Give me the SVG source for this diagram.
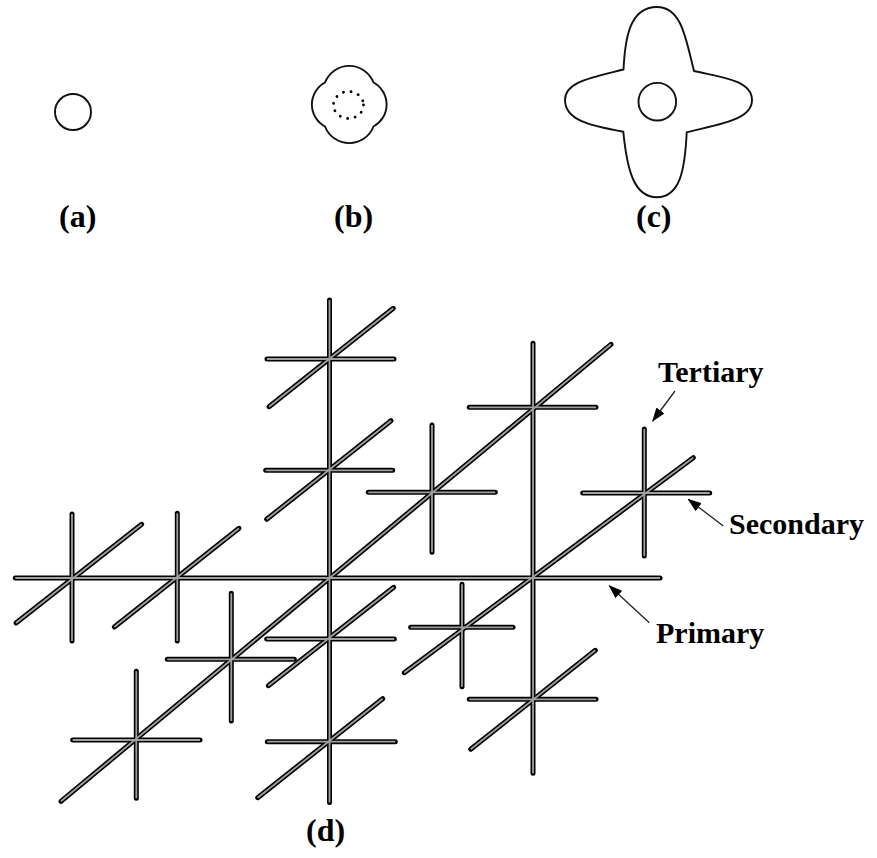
<svg xmlns="http://www.w3.org/2000/svg" xmlns:xlink="http://www.w3.org/1999/xlink" width="877" height="858" viewBox="0 0 877 858">
<style>
.outline{fill:none;stroke:#111;stroke-width:1.9}
.lbl{font-family:"Liberation Serif","Times New Roman",serif;font-weight:bold;font-size:30px;fill:#000}
.fig{font-size:32px}
.arrow{stroke:#222;stroke-width:1.3;fill:none}
</style>
<defs>
<marker id="ah" viewBox="0 0 14 10" refX="13" refY="5" markerWidth="14" markerHeight="10" markerUnits="userSpaceOnUse" orient="auto">
<path d="M0,0 L14,5 L0,10 Z" fill="#000"/>
</marker>
</defs>
<rect width="877" height="858" fill="#fff"/>

<g id="fig-a">
<circle class="outline" cx="73" cy="112" r="18"/>
<text class="lbl fig" x="59" y="227">(a)</text>
</g>

<g id="fig-b">
<path class="outline" d="M325,82.5 A26 26 0 0 1 373.5,82.5 A25 25 0 0 1 373.5,126.5 A26 26 0 0 1 325,126.5 A25 25 0 0 1 325,82.5 Z"/>
<ellipse cx="348.5" cy="105" rx="15" ry="13.5" fill="none" stroke="#000" stroke-width="2.8" stroke-linecap="round" stroke-dasharray="0.1 7.6"/>
<text class="lbl fig" x="334" y="227">(b)</text>
</g>

<g id="fig-c">
<path class="outline" d="M623.5,69.5 C625,40 629,7 657,7 C682,7 686,40 694,71 C720,77 752,80 752,100 C752,120 720,124 686.7,132.3 C685,170 680,197 656.7,197.3 C634,197 627,170 623.3,131.7 C590,126 565,120 565,100 C565,82 590,78 623.5,69.5 Z"/>
<circle class="outline" cx="657.3" cy="101.7" r="18.8"/>
<text class="lbl fig" x="636" y="227">(c)</text>
</g>

<g id="rods-outer" stroke="#000" stroke-width="5" stroke-linecap="round" fill="none">
<g id="rods">
<g id="primary">
<line x1="15.3" y1="578" x2="660" y2="578"/>
<line x1="329.5" y1="300" x2="329.5" y2="802.5"/>
<line x1="533" y1="343.3" x2="533" y2="773.3"/>
<line x1="61" y1="801.3" x2="611" y2="344.3"/>
<line x1="404.3" y1="672.7" x2="693.3" y2="457.7"/>
</g>
<g id="cross1"><line x1="267" y1="359" x2="394" y2="359"/><line x1="269" y1="406.7" x2="393.3" y2="308.3"/></g>
<g id="cross2"><line x1="265.7" y1="470.3" x2="392.7" y2="470.3"/><line x1="266.7" y1="519.3" x2="391" y2="420.7"/></g>
<g id="cross3"><line x1="72" y1="514" x2="72" y2="641"/><line x1="16" y1="623" x2="141.7" y2="524.3"/></g>
<g id="cross4"><line x1="177.3" y1="513.3" x2="177.3" y2="641"/><line x1="114.3" y1="627" x2="239" y2="528.3"/></g>
<g id="cross5"><line x1="231.3" y1="593.3" x2="231.3" y2="721"/><line x1="167.3" y1="659.3" x2="294.3" y2="659.3"/></g>
<g id="cross6"><line x1="136.3" y1="671.3" x2="136.3" y2="798.3"/><line x1="72.7" y1="740" x2="200" y2="740"/></g>
<g id="cross7"><line x1="266.7" y1="639" x2="394.3" y2="639"/><line x1="268.3" y1="685.7" x2="393.7" y2="587.3"/></g>
<g id="cross8"><line x1="267.3" y1="741.7" x2="395.3" y2="741.7"/><line x1="257.7" y1="797.7" x2="382.7" y2="698.7"/></g>
<g id="cross9"><line x1="462" y1="584.3" x2="462" y2="686.7"/><line x1="410.7" y1="627.3" x2="513" y2="627.3"/></g>
<g id="cross10"><line x1="469.3" y1="699.3" x2="596" y2="699.3"/><line x1="470.7" y1="749.3" x2="595.3" y2="650.3"/></g>
<g id="cross11"><line x1="469.3" y1="407.3" x2="596" y2="407.3"/></g>
<g id="cross12"><line x1="432" y1="425" x2="432" y2="552.3"/><line x1="368.3" y1="492.3" x2="495.3" y2="492.3"/></g>
<g id="cross13"><line x1="644.3" y1="429" x2="644.3" y2="556"/><line x1="582.7" y1="493" x2="709.7" y2="493"/></g>
</g>
</g>
<use id="rods-inner" xlink:href="#rods" href="#rods" stroke="#a0a0a0" stroke-width="1.8" stroke-linecap="butt"/>

<g id="connectors">
<line class="arrow" x1="675" y1="391" x2="652.7" y2="421" marker-end="url(#ah)"/>
<line class="arrow" x1="723.3" y1="526" x2="688.3" y2="499.3" marker-end="url(#ah)"/>
<line class="arrow" x1="649.3" y1="622.7" x2="609.3" y2="585.7" marker-end="url(#ah)"/>
</g>

<g id="labels">
<text class="lbl" x="658" y="381.7">Tertiary</text>
<text class="lbl" x="729" y="534">Secondary</text>
<text class="lbl" x="656" y="643.3" font-size="31">Primary</text>
<text class="lbl fig" x="306" y="841">(d)</text>
</g>
</svg>
